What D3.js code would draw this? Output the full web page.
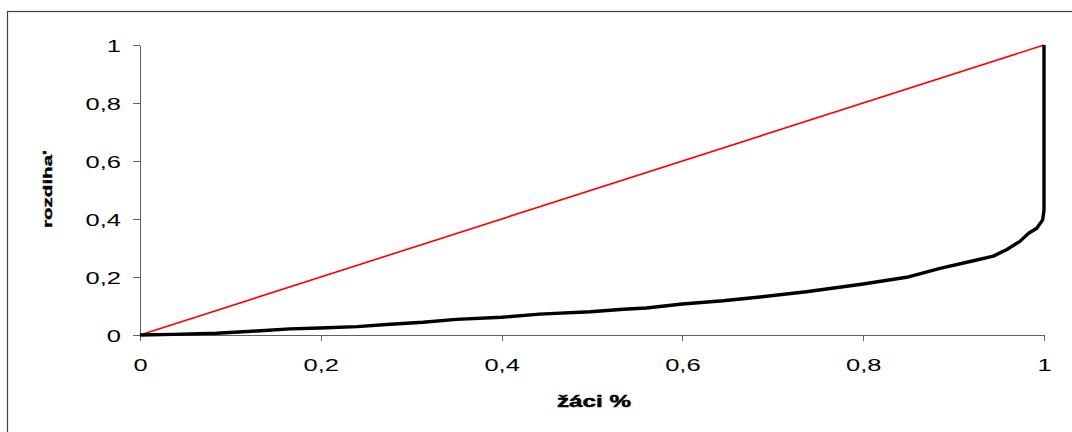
<!DOCTYPE html>
<html lang="sk">
	<head>
		<meta charset="utf-8">
		<title>rozdiel / žáci</title>
		<script type="text/javascript" src="https://cdn.jsdelivr.net/npm/d3@7/dist/d3.min.js"></script>
		<style type="text/css">
			body { margin: 0; background: #fff; }
			.axis path,
			.axis line {
				fill: none;
				stroke: #606060;
				stroke-width: 1;
				shape-rendering: crispEdges;
			}
			.axis text {
				font-family: "Liberation Sans", Arial, sans-serif;
				font-size: 17px;
				fill: #000;
			}
			.label {
				font-family: "Liberation Sans", Arial, sans-serif;
				font-weight: bold;
				fill: #000;
				stroke: #000;
				stroke-width: 0.5;
			}
		</style>
	</head>
	<body>
		<script type="text/javascript">

			//SVG size
			var w = 1072;
			var h = 432;

			//Data
			var xValues = [0, 0.037, 0.085, 0.129, 0.166, 0.199, 0.24, 0.277, 0.313, 0.35,
				0.4, 0.442, 0.498, 0.535, 0.56, 0.6, 0.645, 0.686, 0.737, 0.8,
				0.848, 0.885, 0.922, 0.944, 0.959, 0.973, 0.983, 0.992, 0.9985, 1.0, 1.0];
			var yValues = [0, 0.002, 0.006, 0.014, 0.021, 0.024, 0.029, 0.037, 0.044, 0.054,
				0.061, 0.072, 0.080, 0.089, 0.093, 0.107, 0.118, 0.131, 0.149, 0.176,
				0.199, 0.23, 0.256, 0.272, 0.295, 0.322, 0.351, 0.368, 0.397, 0.43, 1.0];
			var diagonal = [[0, 0], [1, 1]];
			var tickValues = [0, 0.2, 0.4, 0.6, 0.8, 1];
			var tickLabels = ["0", "0,2", "0,4", "0,6", "0,8", "1"];
			var xTitle = "žáci %";
			var yTitle = "rozdiha'";

			var curve = xValues.map(function(x, i) { return [x, yValues[i]]; });

			//Scales
			var xScale = d3.scaleLinear().domain([0, 1]).range([140, 1044]);
			var yScale = d3.scaleLinear().domain([0, 1]).range([335, 45]);

			var svg = d3.select("body")
						.append("svg")
						.attr("width", w)
						.attr("height", h);

			//outer frame (runs off right and bottom)
			svg.append("rect")
				.attr("x", 7.5)
				.attr("y", 11.5)
				.attr("width", w + 20)
				.attr("height", h + 20)
				.attr("fill", "none")
				.attr("stroke", "#404040")
				.attr("stroke-width", 1.2);

			// Axes
			var fmt = function(d) { return tickLabels[tickValues.indexOf(d)]; };
			var xAxis = d3.axisBottom(xScale).tickValues(tickValues).tickFormat(fmt).tickSize(6).tickSizeOuter(0);
			var yAxis = d3.axisLeft(yScale).tickValues(tickValues).tickFormat(fmt).tickSize(7).tickSizeOuter(0);

			var gx = svg.append("g")
				.attr("class", "x axis")
				.attr("transform", "translate(0," + yScale(0) + ")")
				.call(xAxis);
			gx.selectAll("text")
				.attr("y", 0)
				.attr("dy", 0)
				.attr("transform", "translate(0,36) scale(1.5,1)");

			var gy = svg.append("g")
				.attr("class", "y axis")
				.attr("transform", "translate(" + xScale(0) + ",0)")
				.call(yAxis);
			gy.selectAll("text")
				.attr("x", 0)
				.attr("dy", "0.36em")
				.attr("transform", "translate(-19,0) scale(1.5,1)");

			// lines
			var line = d3.line()
				.x(function(d) { return xScale(d[0]); })
				.y(function(d) { return yScale(d[1]); });

			svg.append("path")
				.datum(diagonal)
				.attr("d", line)
				.attr("fill", "none")
				.attr("stroke", "#ff0000")
				.attr("stroke-width", 1.6);

			svg.append("path")
				.datum(curve)
				.attr("d", line)
				.attr("fill", "none")
				.attr("stroke", "#000")
				.attr("stroke-width", 3.4)
				.attr("stroke-linejoin", "round");

			// Axis titles
			svg.append("text")
				.attr("class", "label")
				.attr("x", 594)
				.attr("y", 407)
				.attr("text-anchor", "middle")
				.attr("font-size", "17px")
				.attr("textLength", 74)
				.attr("lengthAdjust", "spacingAndGlyphs")
				.text(xTitle);

			svg.append("text")
				.attr("class", "label")
				.attr("transform", "translate(52,189) rotate(-90) scale(1,0.75)")
				.attr("text-anchor", "middle")
				.attr("font-size", "16px")
				.attr("textLength", 78)
				.attr("lengthAdjust", "spacingAndGlyphs")
				.text(yTitle);

		</script>
	</body>
</html>
